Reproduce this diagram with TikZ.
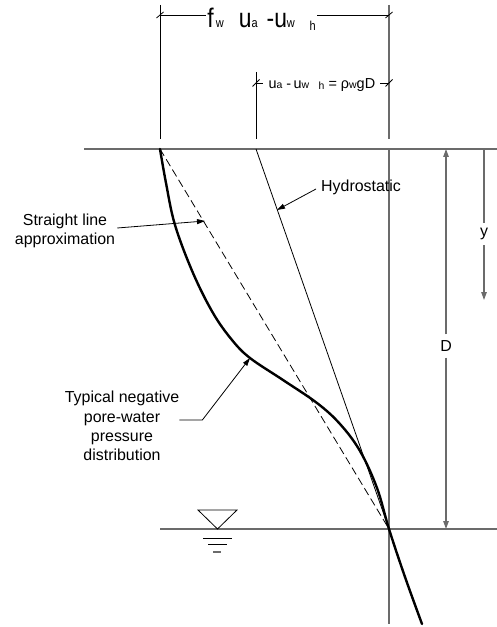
\documentclass[tikz,border=0pt]{standalone}
\usepackage{fontspec}
\setmainfont{Liberation Sans}
\usetikzlibrary{arrows.meta}
\definecolor{lg}{gray}{0.42}
\newcommand\subT[1]{{\fontsize{13}{13}\selectfont #1}}
\newcommand\subTh[1]{\raisebox{-3bp}{\fontsize{13}{13}\selectfont #1}}
\newcommand\subS[1]{{\fontsize{10.5}{10.5}\selectfont #1}}
\newcommand\subSh[1]{\raisebox{-1.5bp}{\fontsize{10.5}{10.5}\selectfont #1}}
\begin{document}
\begin{tikzpicture}[x=1bp,y=-1bp,
  lbl/.style={font=\fontsize{16}{19.3}\selectfont, inner sep=0pt, align=center},
  thinln/.style={line width=0.8bp, black},
  grayln/.style={line width=1.2bp, draw=lg},
  tipblk/.style={-{Triangle[length=8bp,width=5bp]}},
  tipgray/.style={-{Triangle[length=8bp,width=5.5bp,fill=lg]}},
  tickln/.style={line width=0.8bp, black}]
\useasboundingbox (0,0) rectangle (497,627);

% key points
\coordinate (G0) at (84,149);  \coordinate (G1) at (497,149);
\coordinate (W0) at (160,529); \coordinate (W1) at (497,529);
\coordinate (S) at (160,149);  \coordinate (HS) at (256,149);
\coordinate (B) at (389,529);
\coordinate (L0) at (160,5);   \coordinate (L1) at (160,139);
\coordinate (M0) at (256,72);  \coordinate (M1) at (256,139);
\coordinate (R0) at (389,5);   \coordinate (R1) at (389,139);
\coordinate (R2) at (389,149); \coordinate (R3) at (389,624);
\coordinate (T0) at (160,15);  \coordinate (T1) at (389,15);
\coordinate (U0) at (256,83);  \coordinate (U1) at (389,83);

% ground surface and water table
\draw[grayln] (G0) -- (G1);
\draw[grayln] (W0) -- (W1);

% extension lines
\draw[thinln] (L0) -- (L1);
\draw[thinln] (M0) -- (M1);
\draw[grayln] (R0) -- (R1);
\draw[grayln] (R2) -- (R3);

% top dimension
\node[anchor=base west, inner xsep=1.5bp, inner ysep=0pt] (tl) at (205.7,27.3)
  {\fontsize{27}{27}\selectfont\scalebox{0.85}[1]{f\hspace{2.5bp}\subT{w}\hspace{17.6bp}u\subT{a}\hspace{10.6bp}-u\subT{w}\hspace{17.3bp}\subTh{h}}};
\draw[thinln] (T0) -- (T0 -| tl.west);
\draw[thinln] (T1 -| tl.east) -- (T1);
\draw[tickln] (T0) ++(-3.5,3) -- ++(7,-6);
\draw[tickln] (T1) ++(-3.5,3) -- ++(7,-6);

% second dimension
\node[anchor=base west, inner xsep=5bp, inner ysep=0pt] (sl) at (263.3,88.3)
  {\fontsize{14.5}{14.5}\selectfont u\subS{a} -\,u\subS{w}\hspace{9.5bp}\subSh{h} = ρ\subS{w}gD};
\draw[thinln] (U0) -- (U0 -| sl.west);
\draw[thinln] (U1 -| sl.east) -- (U1);
\draw[tickln] (U0) ++(-3.5,3.5) -- ++(7,-7);
\draw[tickln] (U1) ++(-3.5,3.5) -- ++(7,-7);

% hydrostatic and straight lines
\draw[thinln] (HS) -- (B);
\draw[line width=0.8bp, dash pattern=on 8bp off 4bp] (S) -- (B);

% typical curve
\draw[line width=2.4bp, line cap=round] plot[smooth, tension=0.6] coordinates
  {(160,149) (166,183) (175,225) (193,273) (213,313) (232,340) (250,358) (283,380)
   (317,403) (340,424) (360,451) (377,488) (389,529) (405,577) (422,624)};

% D dimension
\coordinate (Dt) at (446,149); \coordinate (Db) at (446,529);
\node[lbl, inner ysep=6bp] (Dl) at (446,346) {D};
\draw[grayln, tipgray] (Dl.north) -- (Dt);
\draw[grayln, tipgray] (Dl.south) -- (Db);

% y arrow
\coordinate (Yt) at (484,149); \coordinate (Yb) at (484,300);
\node[lbl, inner ysep=5bp] (Yl) at (484,234) {y};
\draw[grayln] (Yt) -- (Yl.north);
\draw[grayln, tipgray] (Yl.south) -- (Yb);

% labels and leaders
\node[lbl] (stl) at (65,231) {Straight line\\approximation};
\coordinate (stB) at (205,221);
\draw[thinln, tipblk] ([xshift=2bp,yshift=3bp]stl.east) -- (stB);

\node[lbl, anchor=west] (hyd) at (321,187) {Hydrostatic};
\coordinate (hyB) at (277,210);
\draw[thinln, tipblk] ([xshift=-5bp,yshift=-2bp]hyd.west) -- (hyB);

\node[lbl] (tpn) at (122,426) {Typical negative\\pore-water\\pressure\\distribution};
\coordinate (tpB) at (250,358);
\draw[thinln, tipblk] ([yshift=6bp]tpn.east) -- ++(23,0) -- (tpB);

% water table symbol
\coordinate (wt0) at (198,510); \coordinate (wt1) at (237,510); \coordinate (wt2) at (217.5,529);
\draw[thinln] (wt0) -- (wt1) -- (wt2) -- cycle;
\coordinate (wa0) at (203,538); \coordinate (wa1) at (232,538);
\coordinate (wb0) at (208,544); \coordinate (wb1) at (227,544);
\coordinate (wc0) at (213,552); \coordinate (wc1) at (221,552);
\draw[thinln] (wa0) -- (wa1);
\draw[thinln] (wb0) -- (wb1);
\draw[grayln] (wc0) -- (wc1);
\end{tikzpicture}
\end{document}
